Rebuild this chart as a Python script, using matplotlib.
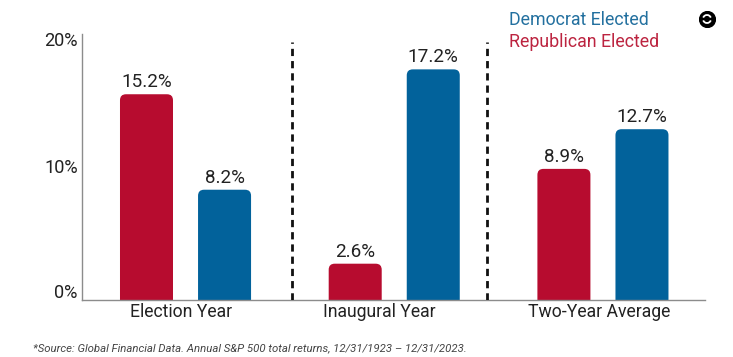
import numpy as np
import matplotlib
matplotlib.use("Agg")
import matplotlib.pyplot as plt
from matplotlib.patches import FancyBboxPatch, Arc

plt.rcParams['font.family'] = ['Roboto', 'DejaVu Sans']

categories = ["Election Year", "Inaugural Year", "Two-Year Average"]
# category labels sit a bit left of their bar pairs in the picture
category_pos = [-0.02, 0.93, 1.98]
# bar heights as drawn in the picture, labels as printed
republican = [15.3, 2.7, 9.75]
democrat = [8.2, 17.15, 12.7]
republican_labels = ["15.2%", "2.6%", "8.9%"]
democrat_labels = ["8.2%", "17.2%", "12.7%"]
tick_pos = [0.65, 10, 19.4]
tick_labels = ["0%", "10%", "20%"]

RED = "#b70c2f"
BLUE = "#02629b"
TEXT = "#222222"

W, H = 733, 357
fig = plt.figure(figsize=(W / 100, H / 100), dpi=100)
ax = fig.add_axes([82 / W, 1 - 300 / H, (705 - 82) / W, (300 - 34) / H])
ax.set_xlim(-0.496, 2.489)
ax.set_ylim(0, 19.78)

bar_w = 0.254
offset = 0.187
# corner radius ~6 px in both directions
rx = 6 / 208.5
ry = 6 / 13.45


def rounded_bar(xc, h, color):
    # start below the axis so only the top corners show as rounded
    p = FancyBboxPatch((xc - bar_w / 2, -2), bar_w, h + 2,
                       boxstyle=f"round,pad=0,rounding_size={rx}",
                       mutation_aspect=ry / rx, fc=color, ec="none")
    ax.add_patch(p)


for i in range(len(categories)):
    rounded_bar(i - offset, republican[i], RED)
    rounded_bar(i + offset, democrat[i], BLUE)
    ax.text(i - offset, republican[i] + 0.22, republican_labels[i], ha="center",
            va="bottom", fontsize=13.6, color=TEXT)
    ax.text(i + offset, democrat[i] + 0.22, democrat_labels[i], ha="center",
            va="bottom", fontsize=13.6, color=TEXT)

# dashed separators
for x in [0.51, 1.444]:
    ax.plot([x, x], [0, 19.2], color="#111111", lw=2, ls=(0, (2.6, 1.8)), zorder=5)

for s in ["top", "right"]:
    ax.spines[s].set_visible(False)
for s in ["left", "bottom"]:
    ax.spines[s].set_color("#8c8c8c")
    ax.spines[s].set_linewidth(1.0)

ax.set_xticks(category_pos, labels=categories)
ax.set_yticks(tick_pos, labels=tick_labels)
ax.tick_params(axis="both", length=0, labelcolor=TEXT)
ax.tick_params(axis="x", pad=2.5, labelsize=12.7)
ax.tick_params(axis="y", pad=3, labelsize=13.1)

# legend as coloured text
fig.text(509 / W, 1 - 20 / H, "Democrat Elected", color="#23709f", fontsize=12.75,
         ha="left", va="center")
fig.text(509 / W, 1 - 42 / H, "Republican Elected", color="#bc2440", fontsize=12.75,
         ha="left", va="center")

fig.text(33 / W, 1 - 348 / H,
         "*Source: Global Financial Data. Annual S&P 500 total returns, 12/31/1923 \u2013 12/31/2023.",
         fontsize=8.2, style="italic", color="#444444", ha="left", va="center")

# small logo in the corner
logo = fig.add_axes([(707 - 8) / W, 1 - (19 + 8) / H, 16 / W, 16 / H])
logo.set_xlim(-1, 1)
logo.set_ylim(-1, 1)
logo.axis("off")
logo.scatter([0], [0], s=130, color="black")
logo.add_patch(Arc((0, 0), 1.0, 1.0, theta1=20, theta2=160, color="white", lw=1.3))
logo.add_patch(Arc((0, 0), 1.0, 1.0, theta1=200, theta2=340, color="white", lw=1.3))

fig.savefig("out.png", dpi=100)
